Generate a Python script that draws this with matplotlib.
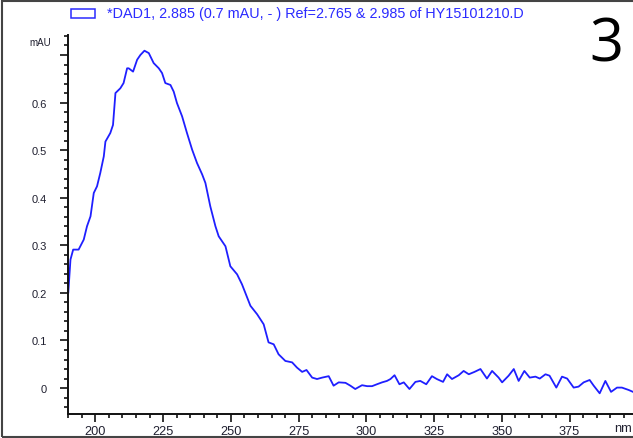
import numpy as np
import matplotlib.pyplot as plt
from matplotlib.patches import Rectangle
from matplotlib.ticker import MultipleLocator, FixedLocator

# UV spectrum from the DAD1 detector (wavelength in nm, absorbance in mAU)
wavelength = [
    190.0, 190.8, 191.8, 193.8, 195.7, 196.9, 198.2, 199.4, 200.6, 201.8,
    203.1, 203.7, 205.5, 206.5, 207.4, 209.2, 210.4, 211.7, 212.3, 213.9,
    215.4, 216.6, 218.1, 219.7, 221.5, 223.4, 224.6, 225.8, 227.7, 228.9,
    230.1, 232.0, 233.8, 235.7, 237.5, 239.4, 240.6, 242.4, 244.3, 245.5,
    248.0, 249.8, 252.3, 254.1, 257.2, 259.7, 262.1, 263.9, 265.8, 267.6,
    270.1, 272.6, 274.4, 276.3, 277.9, 280.0, 281.8, 283.7, 286.1, 287.9,
    289.8, 292.3, 294.1, 295.9, 298.4, 300.3, 302.1, 303.9, 305.8, 307.6,
    308.9, 310.4, 312.2, 313.8, 315.9, 318.1, 319.9, 322.1, 324.2, 326.0,
    328.3, 329.8, 331.6, 334.1, 335.9, 337.8, 339.9, 342.1, 344.5, 346.4,
    348.8, 350.1, 352.5, 354.4, 356.2, 358.3, 360.3, 362.4, 364.0, 366.1,
    367.6, 370.1, 372.2, 374.1, 376.5, 378.3, 380.2, 382.4, 383.9, 386.1,
    388.2, 390.3, 392.5, 394.3, 396.8, 398.4,
]
absorbance = [
    0.201, 0.270, 0.291, 0.291, 0.312, 0.340, 0.361, 0.410, 0.424, 0.452,
    0.487, 0.518, 0.536, 0.553, 0.620, 0.630, 0.641, 0.672, 0.672, 0.665,
    0.690, 0.700, 0.709, 0.704, 0.683, 0.672, 0.662, 0.641, 0.637, 0.623,
    0.599, 0.571, 0.536, 0.501, 0.473, 0.449, 0.431, 0.382, 0.340, 0.319,
    0.298, 0.256, 0.239, 0.218, 0.173, 0.155, 0.134, 0.096, 0.092, 0.071,
    0.057, 0.054, 0.043, 0.034, 0.038, 0.022, 0.019, 0.022, 0.025, 0.005,
    0.012, 0.011, 0.005, -0.002, 0.006, 0.004, 0.004, 0.008, 0.012, 0.015,
    0.019, 0.027, 0.008, 0.012, -0.002, 0.013, 0.015, 0.008, 0.025, 0.019,
    0.013, 0.029, 0.019, 0.027, 0.036, 0.029, 0.034, 0.040, 0.020, 0.036,
    0.022, 0.012, 0.026, 0.040, 0.015, 0.036, 0.022, 0.024, 0.020, 0.029,
    0.026, 0.001, 0.024, 0.020, 0.001, 0.003, 0.012, 0.017, 0.005, -0.011,
    0.015, -0.008, 0.001, 0.001, -0.004, -0.008,
]

x_ticks = [200, 225, 250, 275, 300, 325, 350, 375]
y_ticks = [0, 0.1, 0.2, 0.3, 0.4, 0.5, 0.6, 0.7]
y_tick_labels = ["0", "0.1", "0.2", "0.3", "0.4", "0.5", "0.6", ""]

legend_text = "*DAD1, 2.885 (0.7 mAU, - ) Ref=2.765 & 2.985 of HY15101210.D"
panel_label = "3"

plt.rcParams["font.family"] = ["Liberation Sans", "DejaVu Sans"]

W, H = 633, 439
fig = plt.figure(figsize=(W / 100, H / 100), dpi=100)
ax = fig.add_axes([68.3 / W, (H - 415) / H, 1 - 68.3 / W, (415 - 36) / H])

ax.plot(wavelength, absorbance, color="#1f1fff", lw=1.3)

ax.set_xlim(190, 398.4)
ax.set_ylim(-0.0545, 0.742)

for side in ("top", "right"):
    ax.spines[side].set_visible(False)
for side in ("left", "bottom"):
    ax.spines[side].set_linewidth(1.4)
    ax.spines[side].set_color("#111111")

ax.xaxis.set_major_locator(FixedLocator(x_ticks))
ax.xaxis.set_minor_locator(MultipleLocator(5))
ax.yaxis.set_major_locator(FixedLocator(y_ticks))
ax.yaxis.set_minor_locator(MultipleLocator(0.02))
ax.set_yticklabels(y_tick_labels)

ax.tick_params(axis="both", which="major", direction="out", length=5.5,
               width=1.2, colors="#111111")
ax.tick_params(axis="both", which="minor", direction="out", length=3,
               width=1.2, colors="#111111")
ax.tick_params(axis="x", labelsize=9.2, pad=2.5, labelcolor="#202030")
ax.tick_params(axis="y", labelsize=8, pad=10, labelcolor="#202030")

# axis units in the corners
fig.text(40 / W, 1 - 43 / H, "mAU", fontsize=7, ha="center", va="center",
         color="#202030")
fig.text(614 / W, 1 - 429 / H, "nm", fontsize=9.2, ha="left", va="center",
         color="#202030")

# trace legend above the plot
fig.patches.append(Rectangle((71 / W, 1 - 19 / H), 24 / W, 9 / H,
                             transform=fig.transFigure, fill=False,
                             edgecolor="#2b2bff", lw=1.1))
fig.text(107 / W, 1 - 14 / H, legend_text, fontsize=10.4, ha="left",
         va="center", color="#2b2bff")

fig.text(606 / W, 1 - 45 / H, panel_label, fontsize=43, ha="center",
         va="center", color="black", family=["Open Sans", "DejaVu Sans"])

# outer frame
fig.patches.append(Rectangle((2 / W, 1.5 / H), 1.0, 1 - 3.5 / H,
                             transform=fig.transFigure, fill=False,
                             edgecolor="#444444", lw=1.5))

fig.savefig("out.png", dpi=100)
